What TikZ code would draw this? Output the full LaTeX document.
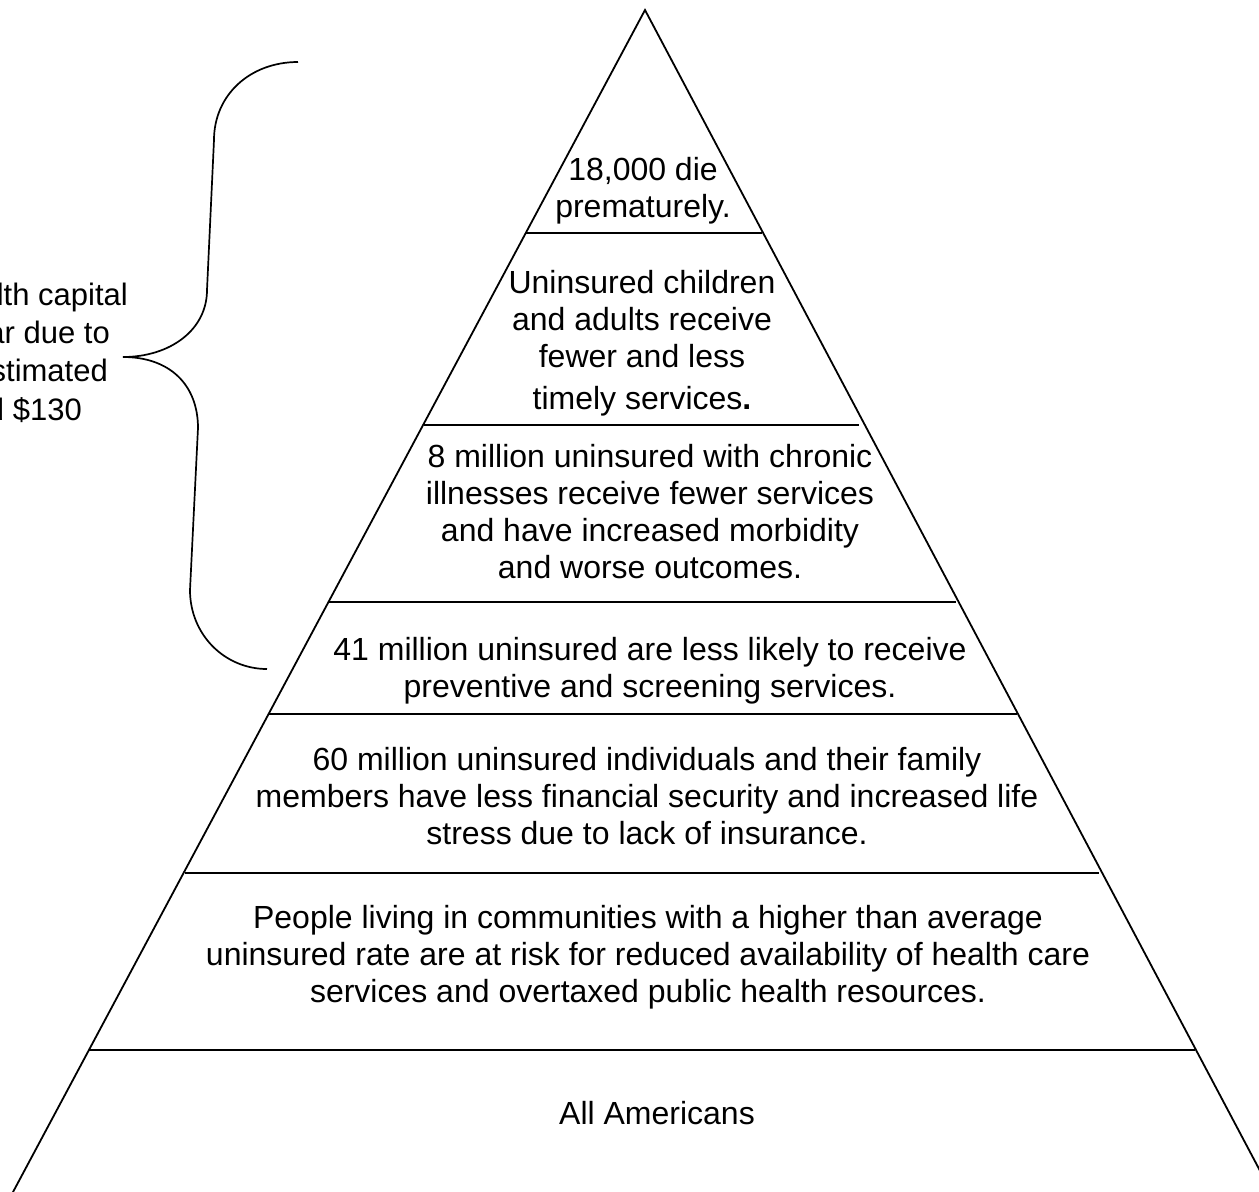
\documentclass[tikz,border=0pt]{standalone}
\usepackage{fontspec}
\setmainfont{Liberation Sans}
\begin{document}
\begin{tikzpicture}[x=1pt,y=-1pt,
    layer/.style={anchor=north, align=center, inner sep=0pt, font=\fontsize{32pt}{37pt}\selectfont},
    side/.style={anchor=base east, inner sep=0pt, font=\fontsize{31pt}{37pt}\selectfont},
    edge/.style={line width=1.8pt},
    rule/.style={line width=1.8pt},
    brace/.style={line width=1.7pt}]
    \useasboundingbox (0,0) rectangle (1259,1192);
    \clip (0,0) rectangle (1259,1192);
    % pyramid outline
    \coordinate (apex) at (645,10);
    \coordinate (baseL) at (-18,1250);
    \coordinate (baseR) at (1302,1250);
    \draw[edge] (baseL) -- (apex) -- (baseR);
    % layer rules
    \draw[rule] (525,233) -- (762,233);
    \draw[rule] (424,425) -- (859,425);
    \draw[rule] (328,602) -- (956,602);
    \draw[rule] (268,714) -- (1017,714);
    \draw[rule] (185,873) -- (1099,873);
    \draw[rule] (89,1050) -- (1195,1050);
    % layer texts
    \node[layer] (die) at (643,157) {18,000 die\\prematurely.};
    \node[layer] (services) at (642,270) {Uninsured children\\and adults receive\\fewer and less\\[5pt]timely services\textbf{.}};
    \node[layer] (chronic) at (650,444) {8 million uninsured with chronic\\illnesses receive fewer services\\and have increased morbidity\\and worse outcomes.};
    \node[layer] (screening) at (650,637) {41 million uninsured are less likely to receive\\preventive and screening services.};
    \node[layer] (families) at (647,747) {60 million uninsured individuals and their family\\members have less financial security and increased life\\stress due to lack of insurance.};
    \node[layer] (communities) at (648,905) {People living in communities with a higher than average\\uninsured rate are at risk for reduced availability of health care\\services and overtaxed public health resources.};
    \node[layer] (all) at (657,1101) {All Americans};
    % brace and side note (cut by the page edge)
    \coordinate (braceTop) at (298,62);
    \coordinate (braceTip) at (123,357);
    \coordinate (braceBot) at (267,669);
    \draw[brace] (braceTop) .. controls (250,62) and (214,95) .. (214,140)
        -- (207,290) .. controls (207,330) and (170,357) .. (braceTip)
        .. controls (170,357) and (198,385) .. (198,428)
        -- (190,590) .. controls (190,635) and (225,669) .. (braceBot);
    \node[side] (note1) at (128,305) {lth capital};
    \node[side] (note2) at (110,343) {ar due to};
    \node[side] (note3) at (108,381) {stimated};
    \node[side] (note4) at (82,420) {d \$130};
\end{tikzpicture}
\end{document}
